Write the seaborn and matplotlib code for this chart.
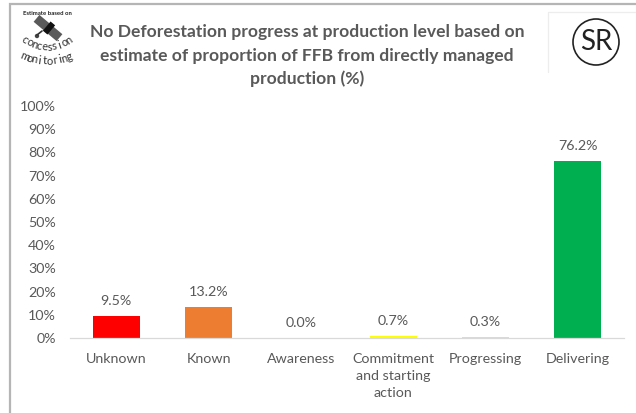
import numpy as np
import pandas as pd
import matplotlib
matplotlib.use("Agg")
import matplotlib.pyplot as plt
import seaborn as sns
from matplotlib.patches import Circle, Polygon

categories = ["Unknown", "Known", "Awareness", "Commitment\nand starting\naction", "Progressing", "Delivering"]
values = [9.5, 13.2, 0.0, 0.7, 0.3, 76.2]
colors = ["#FF0000", "#ED7D31", "#A5A5A5", "#FFFF00", "#D9D9D9", "#00B050"]
title_lines = ["No Deforestation progress at production level based on",
               "estimate of proportion of FFB from directly managed",
               "production (%)"]
yticks = list(range(0, 101, 10))

W, H = 636, 413
sns.set_theme(style="white")
plt.rcParams["font.family"] = ["Lato", "DejaVu Sans"]
fig = plt.figure(figsize=(W / 100, H / 100), dpi=100, facecolor="white")

bg = fig.add_axes([0, 0, 1, 1], zorder=0)
bg.set_xlim(0, W); bg.set_ylim(H, 0); bg.axis("off")
bg.plot([10, 10, W], [H, 4, 4], color="#B5B5B5", lw=1.6, solid_joinstyle="miter")
bg.plot([548, 548, W], [72, 12, 12], color="#EDEDED", lw=0.9)
bg.add_patch(Circle((596, 42), 23, fill=False, ec="#222222", lw=1.2))
bg.text(596, 42.5, "SR", ha="center", va="center", fontsize=20, color="#222222")

def rot(pts, a, c):
    a = np.radians(a)
    M = np.array([[np.cos(a), -np.sin(a)], [np.sin(a), np.cos(a)]])
    return (np.array(pts) @ M.T) + c
c = np.array([48, 28])
bg.add_patch(Polygon(rot([[-15, -4.5], [15, -4.5], [15, 4.5], [-15, 4.5]], 40, c), color="#5A5A5A", lw=0))
bg.add_patch(Polygon(rot([[-3, -6], [3, -6], [3, 6], [-3, 6]], 40, c + [1, 0]), color="#111111", lw=0))
bg.plot([37, 42], [35, 31], color="#333333", lw=1.2)
bg.add_patch(Circle((37, 36), 2.2, fc="#444444", ec="none"))
bg.text(47, 13.5, "Estimate based on", ha="center", va="center", fontsize=4.3, weight="bold", color="#222222")

def arc_text(s, cx, cy, r, a0, a1, size):
    for ch, a in zip(s, np.linspace(a0, a1, len(s))):
        x = cx + r * np.sin(np.radians(a))
        y = cy + r * np.cos(np.radians(a))
        bg.text(x, y, ch, rotation=a, rotation_mode="anchor", ha="center", va="center",
                fontsize=size, color="#333333")
arc_text("concession", 47, 9, 38, -35, 35, 8)
arc_text("monitoring", 47, 1, 60, -22, 22, 8)

for line, y in zip(title_lines, [32, 56, 79]):
    bg.text(307, y, line, ha="center", va="center", fontsize=12.6, weight="bold", color="#595959")

L, R, T, B = 70, 624, 106, 338
ax = fig.add_axes([L / W, 1 - B / H, (R - L) / W, (B - T) / H], zorder=1)
ax.patch.set_alpha(0)
df = pd.DataFrame({"category": categories, "value": values})
sns.barplot(data=df, x="category", y="value", hue="category", palette=colors, legend=False,
            width=0.51, saturation=1, ax=ax, linewidth=0)
ax.set_ylim(0, 100)
ax.set_xlim(-0.5, 5.5)
ax.set_yticks(yticks)
ax.set_yticklabels([f"{v}%" for v in yticks])
ax.set_xlabel(""); ax.set_ylabel("")
ax.tick_params(axis="both", length=0, labelsize=10.3, labelcolor="#595959")
ax.tick_params(axis="x", pad=11)
ax.tick_params(axis="y", pad=10)
for lab in ax.get_xticklabels():
    lab.set_linespacing(1.5)
for s in ["top", "right", "left"]:
    ax.spines[s].set_visible(False)
ax.spines["bottom"].set_color("#D9D9D9")
ax.spines["bottom"].set_linewidth(0.9)
for i, v in enumerate(values):
    ax.annotate(f"{v:.1f}%", (i, v), xytext=(0, 9), textcoords="offset pixels",
                ha="center", va="bottom", fontsize=10.3, color="#595959")
fig.savefig("out.png", dpi=100, facecolor="white")
